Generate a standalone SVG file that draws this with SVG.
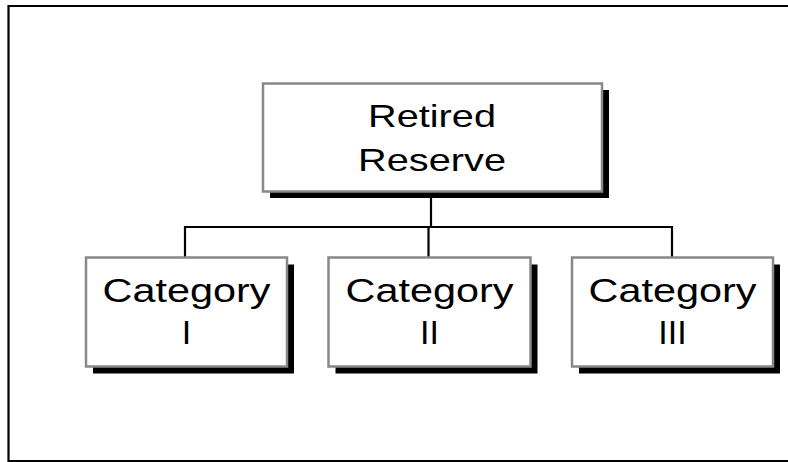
<svg xmlns="http://www.w3.org/2000/svg" width="788" height="462" viewBox="0 0 788 462">
<style>
.shadow{fill:#000}
.box{fill:#fff;stroke:#888;stroke-width:2.5}
.line{fill:none;stroke:#000;stroke-width:2.2}
.t{font-family:"Liberation Sans",Arial,sans-serif;fill:#000;text-anchor:middle}
.big{font-size:34px}
.top{font-size:30.5px}
</style>
<rect width="788" height="462" fill="#fff"/>
<path class="line" d="M789 6 H8.5 V461 H789"/>
<g id="connectors">
<path class="line" d="M431 192 V227"/>
<path class="line" d="M185 258 V227 H672 V258"/>
<path class="line" d="M428.5 227 V258"/>
</g>
<g id="retired-reserve">
<rect class="shadow" x="270" y="90" width="339" height="108"/>
<rect class="box" x="263" y="83.5" width="339" height="108"/>
<text class="t top" x="432" y="127" textLength="128" lengthAdjust="spacingAndGlyphs">Retired</text>
<text class="t top" x="432" y="170.5" textLength="148" lengthAdjust="spacingAndGlyphs">Reserve</text>
</g>
<g id="category-i">
<rect class="shadow" x="93" y="264.5" width="201" height="109"/>
<rect class="box" x="86" y="257.5" width="201" height="109"/>
<text class="t big" x="186.5" y="301.7" textLength="168" lengthAdjust="spacingAndGlyphs">Category</text>
<text class="t big" x="186.5" y="344">I</text>
</g>
<g id="category-ii">
<rect class="shadow" x="335.5" y="264.5" width="202" height="109"/>
<rect class="box" x="328.5" y="257.5" width="202" height="109"/>
<text class="t big" x="429.5" y="301.7" textLength="168" lengthAdjust="spacingAndGlyphs">Category</text>
<text class="t big" x="429.5" y="344">II</text>
</g>
<g id="category-iii">
<rect class="shadow" x="579" y="264.5" width="201" height="109"/>
<rect class="box" x="572" y="257.5" width="201" height="109"/>
<text class="t big" x="672.5" y="301.7" textLength="168" lengthAdjust="spacingAndGlyphs">Category</text>
<text class="t big" x="672.5" y="344">III</text>
</g>
</svg>
